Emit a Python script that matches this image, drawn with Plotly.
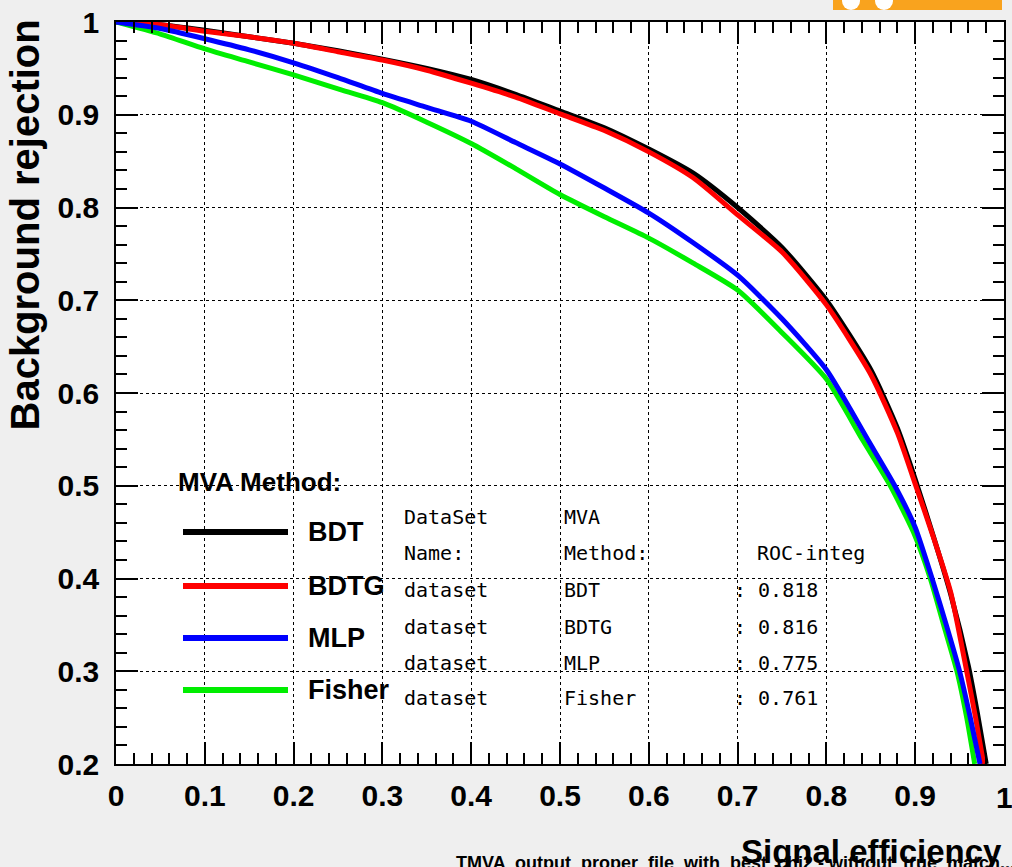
import plotly.graph_objects as go

# ---------------- data ----------------
eff_bdt = [0, 0.05, 0.1, 0.15, 0.2, 0.25, 0.3, 0.35, 0.4, 0.45, 0.5, 0.55, 0.6, 0.65, 0.7,
           0.75, 0.8, 0.85, 0.88, 0.9, 0.92, 0.94, 0.96, 0.97, 0.98]
rej_bdt = [1.0, 0.997, 0.991, 0.984, 0.977, 0.969, 0.960, 0.950, 0.938, 0.922, 0.904, 0.886,
           0.863, 0.837, 0.800, 0.757, 0.700, 0.625, 0.562, 0.507, 0.447, 0.383, 0.305, 0.255, 0.200]

eff_bdtg = [0, 0.05, 0.1, 0.15, 0.2, 0.25, 0.3, 0.35, 0.4, 0.45, 0.5, 0.55, 0.6, 0.65, 0.7,
            0.75, 0.8, 0.85, 0.88, 0.9, 0.92, 0.94, 0.958, 0.968, 0.977]
rej_bdtg = [1.0, 0.997, 0.990, 0.984, 0.977, 0.968, 0.959, 0.948, 0.934, 0.919, 0.901, 0.883,
            0.860, 0.832, 0.792, 0.752, 0.695, 0.620, 0.557, 0.502, 0.446, 0.385, 0.300, 0.250, 0.200]

eff_mlp = [0, 0.05, 0.1, 0.15, 0.2, 0.25, 0.3, 0.35, 0.4, 0.45, 0.5, 0.55, 0.6, 0.65, 0.7,
           0.75, 0.8, 0.847, 0.877, 0.9, 0.919, 0.935, 0.95, 0.962, 0.973]
rej_mlp = [1.0, 0.993, 0.982, 0.970, 0.956, 0.940, 0.923, 0.908, 0.893, 0.870, 0.847, 0.821,
           0.794, 0.762, 0.727, 0.680, 0.625, 0.549, 0.500, 0.455, 0.400, 0.350, 0.300, 0.250, 0.200]

eff_fisher = [0, 0.05, 0.1, 0.15, 0.2, 0.25, 0.3, 0.35, 0.4, 0.45, 0.5, 0.55, 0.6, 0.65, 0.7,
              0.75, 0.8, 0.841, 0.872, 0.898, 0.917, 0.932, 0.947, 0.958, 0.967]
rej_fisher = [1.0, 0.987, 0.971, 0.957, 0.943, 0.928, 0.913, 0.892, 0.869, 0.842, 0.814, 0.790,
              0.767, 0.740, 0.711, 0.665, 0.615, 0.549, 0.500, 0.450, 0.400, 0.350, 0.300, 0.250, 0.200]

methods = ["BDT", "BDTG", "MLP", "Fisher"]
roc_integ = ["0.818", "0.816", "0.775", "0.761"]
colors = {"BDT": "#000000", "BDTG": "#ff0000", "MLP": "#0000ff", "Fisher": "#00ee00"}
curves = {"BDT": (eff_bdt, rej_bdt), "BDTG": (eff_bdtg, rej_bdtg),
          "MLP": (eff_mlp, rej_mlp), "Fisher": (eff_fisher, rej_fisher)}
draw_order = ["BDT", "BDTG", "Fisher", "MLP"]

x_ticks = [0, 0.1, 0.2, 0.3, 0.4, 0.5, 0.6, 0.7, 0.8, 0.9, 1.0]
x_ticklabels = ["0", "0.1", "0.2", "0.3", "0.4", "0.5", "0.6", "0.7", "0.8", "0.9", "1"]
y_ticks = [0.2, 0.3, 0.4, 0.5, 0.6, 0.7, 0.8, 0.9, 1.0]
y_ticklabels = ["0.2", "0.3", "0.4", "0.5", "0.6", "0.7", "0.8", "0.9", "1"]

# ---------------- layout helpers ----------------
W, H = 1012, 867
L, R, T, B = 116, 1004, 22, 764
def xp(px):
    return (px - L) / (R - L)
def yp(py):
    return (B - py) / (B - T)

SANS = "Liberation Sans, Arial, sans-serif"
MONO = "DejaVu Sans Mono, Liberation Mono, monospace"
TICKFONT = dict(family=SANS, size=30, color="black", weight="bold")

fig = go.Figure()
for m in draw_order:
    xs, ys = curves[m]
    fig.add_trace(go.Scatter(x=xs, y=ys, mode="lines", name=m, line_shape="spline",
                             line=dict(color=colors[m], width=5, smoothing=0.6),
                             showlegend=False, hoverinfo="skip"))

axis_common = dict(
    ticks="inside", ticklen=22, tickwidth=1.5, tickcolor="black",
    showline=True, linecolor="black", linewidth=1.5, mirror="ticks",
    showgrid=True, gridcolor="black", griddash="dot", gridwidth=1,
    zeroline=False, automargin=False, tickfont=TICKFONT,
)
fig.update_xaxes(range=[0, 1], tickmode="array", tickvals=x_ticks, ticktext=x_ticklabels,
                 minor=dict(dtick=0.02, tick0=0, ticks="inside", ticklen=11, tickwidth=1.5,
                            tickcolor="black", showgrid=False),
                 ticklabelstandoff=4, **axis_common)
fig.update_yaxes(range=[0.2, 1], tickmode="array", tickvals=y_ticks, ticktext=y_ticklabels,
                 minor=dict(dtick=0.02, tick0=0.2, ticks="inside", ticklen=11, tickwidth=1.5,
                            tickcolor="black", showgrid=False),
                 ticklabelstandoff=9, **axis_common)

shapes = []
# white box behind the ROC table
shapes.append(dict(type="rect", xref="paper", yref="paper", x0=xp(395), x1=xp(873),
                   y0=yp(718), y1=yp(490), fillcolor="white", line=dict(width=0),
                   layer="between"))
# legend line samples
leg_y = [532, 586, 638, 690]
for m, py in zip(methods, leg_y):
    shapes.append(dict(type="line", xref="paper", yref="paper", x0=xp(183), x1=xp(288),
                       y0=yp(py), y1=yp(py), line=dict(color=colors[m], width=6)))
# orange logo fragment in top right
shapes.append(dict(type="rect", xref="paper", yref="paper", x0=xp(833), x1=xp(1002),
                   y0=yp(10), y1=yp(-5), fillcolor="#f9a31e", line=dict(width=0)))
for cx in (851, 884):
    shapes.append(dict(type="circle", xref="paper", yref="paper", x0=xp(cx - 9), x1=xp(cx + 9),
                       y0=yp(10), y1=yp(-8), fillcolor="white", line=dict(width=0)))

ann = []
# last x tick label (hidden by plotly because it runs past the page edge)
ann.append(dict(text=x_ticklabels[-1], xref="x", yref="paper", x=x_ticks[-1], y=yp(797),
                xanchor="center", yanchor="middle", showarrow=False, font=TICKFONT))
ann.append(dict(text="MVA Method:", xref="paper", yref="paper", x=xp(176), y=yp(482),
                xanchor="left", yanchor="middle", showarrow=False,
                font=dict(family=SANS, size=26, color="black", weight="bold")))
for m, py in zip(methods, leg_y):
    ann.append(dict(text=m, xref="paper", yref="paper", x=xp(306), y=yp(py),
                    xanchor="left", yanchor="middle", showarrow=False,
                    font=dict(family=SANS, size=27, color="black", weight="bold")))

rows = [("DataSet", "MVA", "", ""), ("Name:", "Method:", "", "ROC-integ")]
for m, v in zip(methods, roc_integ):
    rows.append(("dataset", m, ": " + v, ""))
row_y = [517, 553, 590, 627, 663, 698]
for (c1, c2, c3, c4), py in zip(rows, row_y):
    for txt, px in ((c1, 402), (c2, 562), (c3, 732), (c4, 755)):
        if txt:
            ann.append(dict(text=txt, xref="paper", yref="paper", x=xp(px), y=yp(py),
                            xanchor="left", yanchor="middle", showarrow=False,
                            font=dict(family=MONO, size=20, color="#000000")))

ann.append(dict(text="Background rejection", xref="paper", yref="paper", x=xp(25), y=yp(18),
                xanchor="center", yanchor="top", textangle=-90, showarrow=False,
                font=dict(family=SANS, size=40, color="black", weight="bold")))
ann.append(dict(text="TMVA  output  proper  file  with  best  chi2 - without  true  match...",
                xref="paper", yref="paper", x=xp(454), y=yp(851), xanchor="left", yanchor="top",
                showarrow=False,
                font=dict(family=SANS, size=18, color="black", weight="bold")))
ann.append(dict(text="Signal efficiency", xref="paper", yref="paper", x=xp(1004), y=yp(851),
                xanchor="right", yanchor="middle", showarrow=False,
                font=dict(family=SANS, size=33, color="black", weight="bold")))

fig.update_layout(
    width=W, height=H, autosize=False,
    margin=dict(l=L, r=W - R, t=T, b=H - B, pad=0, autoexpand=False),
    paper_bgcolor="#efefef", plot_bgcolor="white",
    shapes=shapes, annotations=ann, showlegend=False,
)

fig.write_html("out.html", config={"displayModeBar": False, "responsive": False},
               default_width="1012px", default_height="867px",
               post_script="document.documentElement.style.overflow='hidden';"
                           "document.body.style.overflow='hidden';"
                           "document.body.style.margin='0px';"
                           "document.body.style.padding='0px';"
                           "document.body.style.background='#efefef';")
